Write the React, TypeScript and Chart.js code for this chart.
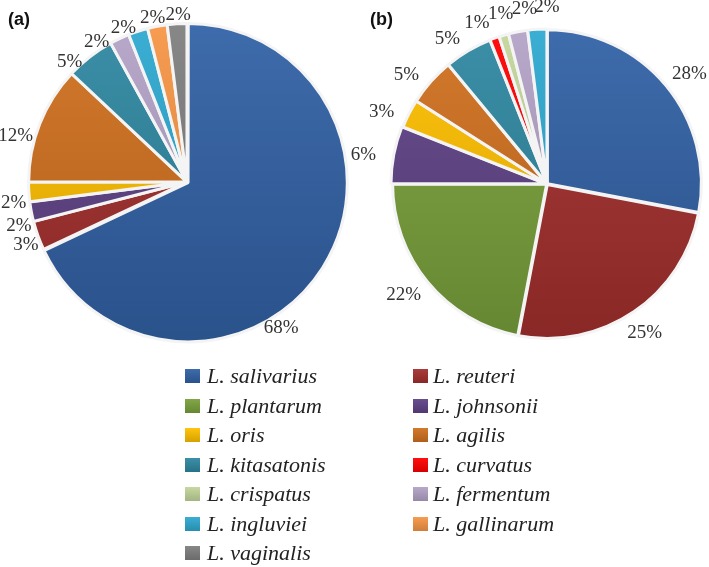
import React, { useEffect, useRef } from "react";
import { Chart, registerables } from "chart.js";
Chart.register(...registerables);

// ---- data ----
const speciesNames = [
  "L. salivarius", "L. reuteri", "L. plantarum", "L. johnsonii", "L. oris",
  "L. agilis", "L. kitasatonis", "L. curvatus", "L. crispatus", "L. fermentum",
  "L. ingluviei", "L. gallinarum", "L. vaginalis",
];
const speciesColors = [
  "#3262A6", "#A3302D", "#7AA13B", "#5F4387", "#FFC000",
  "#D0701F", "#2E88A1", "#FF0000", "#C3D69B", "#B3A2C7",
  "#2EA9D0", "#F79646", "#7F7F7F",
];

const panelASpecies = [
  "L. salivarius", "L. reuteri", "L. johnsonii", "L. oris", "L. agilis",
  "L. kitasatonis", "L. fermentum", "L. ingluviei", "L. gallinarum", "L. vaginalis",
];
const panelAValues = [68, 3, 2, 2, 12, 5, 2, 2, 2, 2];

const panelBSpecies = [
  "L. salivarius", "L. reuteri", "L. plantarum", "L. johnsonii", "L. oris",
  "L. agilis", "L. kitasatonis", "L. curvatus", "L. crispatus", "L. fermentum",
  "L. ingluviei",
];
const panelBValues = [28, 25, 22, 6, 3, 5, 5, 1, 1, 2, 2];

// label placement angles (degrees, clockwise from 3 o'clock), as laid out in the figure
const panelALabelAngles = [57.5, 158, 164.7, 173, 196.6, 226.6, 237.6, 247.6, 258, 266.9];
const panelBLabelAngles = [-39.5, 57.2, 141, 190, 205, 219, 236, 246.5, 254.6, 262.5, 270];

// ---- helpers ----
function shade(hex: string, f: number): string {
  const n = parseInt(hex.slice(1), 16);
  let r = n >> 16, g = (n >> 8) & 255, b = n & 255;
  if (f >= 0) {
    r = r + (255 - r) * f; g = g + (255 - g) * f; b = b + (255 - b) * f;
  } else {
    r = r * (1 + f); g = g * (1 + f); b = b * (1 + f);
  }
  return `rgb(${Math.round(r)},${Math.round(g)},${Math.round(b)})`;
}

function colorFor(name: string) {
  return speciesColors[speciesNames.indexOf(name)];
}

const pctLabelPlugin = {
  id: "pctLabels",
  afterDatasetsDraw(chart: any, _args: any, opts: any) {
    const ctx = chart.ctx;
    const meta = chart.getDatasetMeta(0);
    const values = chart.data.datasets[0].data;
    ctx.save();
    ctx.font = "19px 'Liberation Serif', 'Times New Roman', serif";
    ctx.fillStyle = "#333333";
    ctx.textAlign = "center";
    ctx.textBaseline = "middle";
    meta.data.forEach((arc: any, i: number) => {
      const p = arc.getProps(["x", "y", "startAngle", "endAngle", "outerRadius"], true);
      let mid = (p.startAngle + p.endAngle) / 2;
      if (opts.angles && opts.angles[i] !== undefined) {
        mid = (opts.angles[i] * Math.PI) / 180;
      }
      const text = values[i] + "%";
      const w = ctx.measureText(text).width;
      const h = 13;
      const off = arc.options.offset || 0;
      const a = p.outerRadius + off + opts.gap;
      const c = Math.cos(mid), s = Math.sin(mid);
      const cx = p.x + c * a + c * Math.abs(c) * (w / 2);
      const cy = p.y + s * a + s * Math.abs(s) * (h / 2);
      ctx.fillText(text, cx, cy + 1);
    });
    ctx.restore();
  },
};

function makePie(
  canvas: HTMLCanvasElement,
  names: string[],
  values: number[],
  radius: number,
  padLeft: number,
  offsets: number[],
  gap: number,
  angles: number[]
) {
  const colors = names.map(colorFor);
  return new Chart(canvas, {
    type: "pie",
    data: {
      labels: names,
      datasets: [
        {
          data: values,
          backgroundColor: (c: any) => {
            const base = colors[c.dataIndex] || "#888";
            const area = c.chart.chartArea;
            if (!area) return base;
            const cy = (area.top + area.bottom) / 2;
            const g = c.chart.ctx.createLinearGradient(0, cy - radius, 0, cy + radius);
            g.addColorStop(0, shade(base, 0.06));
            g.addColorStop(1, shade(base, -0.16));
            return g;
          },
          borderColor: "#f4f4f4",
          borderWidth: 3,
          offset: offsets,
        },
      ],
    },
    options: {
      responsive: false,
      animation: false,
      radius: radius,
      layout: { padding: { left: padLeft, right: 0, top: 0, bottom: 0 } },
      plugins: {
        legend: { display: false },
        tooltip: { enabled: false },
        title: { display: false },
        pctLabels: { gap, angles },
      } as any,
    } as any,
    plugins: [pctLabelPlugin],
  });
}

export default function App() {
  const aRef = useRef<HTMLCanvasElement>(null);
  const bRef = useRef<HTMLCanvasElement>(null);

  useEffect(() => {
    const a = makePie(aRef.current!, panelASpecies, panelAValues, 158, 0,
      panelAValues.map((_, i) => (i === 0 ? 5 : 1)), 3, panelALabelAngles);
    const b = makePie(bRef.current!, panelBSpecies, panelBValues, 154, 45,
      panelBValues.map((_, i) => (i === 3 ? 5 : 2)), 15, panelBLabelAngles);
    return () => {
      a.destroy();
      b.destroy();
    };
  }, []);

  const legendItems: React.ReactNode[] = [];
  speciesNames.forEach((name, i) => {
    const col = i % 2;
    const row = Math.floor(i / 2);
    const top = 376 + row * 29.5 - 15;
    const left = col === 0 ? 185 : 413;
    legendItems.push(
      <div
        key={name}
        style={{
          position: "absolute",
          left,
          top,
          height: 30,
          display: "flex",
          alignItems: "center",
          whiteSpace: "nowrap",
        }}
      >
        <span
          style={{
            display: "inline-block",
            width: 15,
            height: 14,
            background: `linear-gradient(${shade(speciesColors[i], 0.06)}, ${shade(speciesColors[i], -0.16)})`,
            marginRight: col === 0 ? 7 : 5,
          }}
        />
        <span
          style={{
            fontFamily: "'Liberation Serif', 'Times New Roman', serif",
            fontStyle: "italic",
            fontSize: 22,
            color: "#222",
            lineHeight: "30px",
          }}
        >
          {name}
        </span>
      </div>
    );
  });

  const tag = {
    position: "absolute" as const,
    top: 9,
    fontFamily: "'Liberation Sans', Arial, sans-serif",
    fontWeight: "bold" as const,
    fontSize: 18,
    color: "#111",
  };

  return (
    <div
      style={{
        position: "fixed",
        left: 0,
        top: 0,
        width: 709,
        height: 567,
        background: "#fff",
        overflow: "hidden",
      }}
    >
      <canvas ref={aRef} width={374} height={364} style={{ position: "absolute", left: 0, top: 0 }} />
      <canvas ref={bRef} width={369} height={368} style={{ position: "absolute", left: 340, top: 0 }} />
      <div style={{ ...tag, left: 8 }}>(a)</div>
      <div style={{ ...tag, left: 370 }}>(b)</div>
      {legendItems}
    </div>
  );
}
